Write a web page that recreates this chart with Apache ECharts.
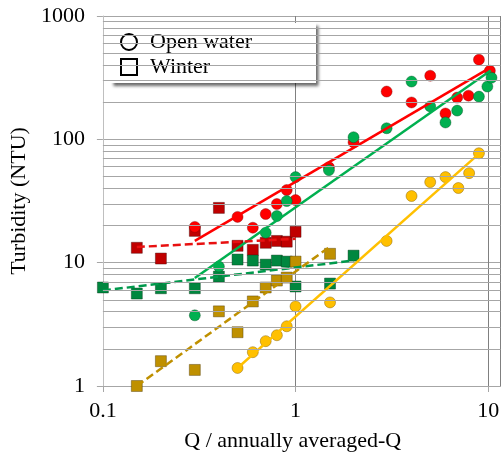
<!DOCTYPE html>
<html>
<head>
<meta charset="utf-8">
<script src="https://cdn.jsdelivr.net/npm/echarts@6/dist/echarts.min.js"></script>
<style>
  html, body { margin: 0; padding: 0; background: #fff; }
  #main { width: 502px; height: 457px; }
</style>
</head>
<body>
<div id="main"></div>
<script>
// open water points [Q ratio, NTU]
var redOpen = [[0.30,19.5],[0.50,23.5],[0.60,19.2],[0.70,24.8],[0.80,29.9],[0.90,38.8],[1.0,32.2],
  [1.49,59.4],[2.0,94.6],[2.97,244],[4.0,199],[5.0,328],[6.0,162],[6.9,218],[7.9,226],[8.95,442],[10.2,360]];
var greenOpen = [[0.30,3.74],[0.40,9.3],[0.70,17.5],[0.80,23.9],[0.90,31.6],[1.0,49.4],[1.49,56.2],
  [2.0,104],[2.97,123],[4.0,294],[5.0,185],[6.0,137],[6.9,171],[8.95,222],[9.9,268],[10.4,316]];
var yellowOpen = [[0.50,1.40],[0.60,1.88],[0.70,2.31],[0.80,2.58],[0.90,3.05],[1.0,4.42],[1.51,4.76],
  [2.97,15.0],[4.0,34.7],[5.0,45.0],[6.0,49.4],[7.0,40.3],[7.96,53.2],[8.95,77.1]];

// winter points
var redWinter = [[0.15,13.2],[0.20,10.8],[0.30,18.1],[0.40,27.8],[0.50,13.7],[0.60,12.7],[0.70,14.5],
  [0.80,15.0],[0.90,14.8],[1.0,17.8]];
var greenWinter = [[0.10,6.29],[0.15,5.62],[0.20,6.2],[0.30,6.2],[0.40,7.71],[0.50,10.6],[0.60,10.4],
  [0.70,9.64],[0.80,10.4],[0.90,10.2],[1.0,6.41],[1.51,6.77],[2.0,11.4]];
var yellowWinter = [[0.15,1.0],[0.20,1.59],[0.30,1.35],[0.40,4.03],[0.50,2.73],[0.60,4.85],[0.70,6.29],
  [0.80,7.16],[0.90,7.57],[1.0,10.2],[1.51,11.8]];

// power-law fits (end points)
var redFit = [[0.30,15.0],[10.2,380]];
var greenFit = [[0.30,7.5],[10.3,362]];
var yellowFit = [[0.50,1.40],[9.0,77]];
var redWinterFit = [[0.15,13.4],[1.0,15.6]];
var greenWinterFit = [[0.10,5.95],[2.0,10.4]];
var yellowWinterFit = [[0.15,1.0],[1.51,13.5]];

var xTicks = ['0.1', '1', '10'];
var yTicks = ['1', '10', '100', '1000'];

var FONT = 'Liberation Serif';

// minor log grid lines 2..9 of each decade
var minorLines = [];
[1, 10, 100].forEach(function (d) {
  for (var k = 2; k <= 9; k++) minorLines.push({yAxis: d * k});
});

function pts(name, data, symbol, color, border) {
  return {
    name: name, type: 'scatter', data: data, symbol: symbol, symbolSize: 11, z: 3,
    itemStyle: {color: color, borderColor: border, borderWidth: 0.8, opacity: 1}
  };
}
function fit(data, color, dashed) {
  return {
    type: 'line', data: data, showSymbol: false, z: 4, silent: true,
    lineStyle: {color: color, width: 2.5, type: dashed ? [8, 4] : 'solid'}
  };
}

var option = {
  animation: false,
  grid: {left: 96, top: 16, right: 0, bottom: 69},
  legend: {
    orient: 'vertical', left: 110, top: 23,
    itemWidth: 16, itemHeight: 16, itemGap: 3,
    padding: [8, 64, 5, 10],
    backgroundColor: '#fff',
    shadowColor: 'rgba(0,0,0,0.6)', shadowBlur: 3, shadowOffsetX: 3, shadowOffsetY: 3,
    selectedMode: false,
    textStyle: {fontFamily: FONT, fontSize: 22, color: '#000', padding: [0, 0, 0, 8]},
    data: [{name: 'Open water', icon: 'circle'}, {name: 'Winter', icon: 'rect'}]
  },
  xAxis: {
    type: 'log', logBase: 10, min: 0.1, max: 11.58,
    name: 'Q / annually averaged-Q', nameLocation: 'middle', nameGap: 44,
    nameTextStyle: {fontFamily: FONT, fontSize: 22, color: '#000', padding: [0, 18, 0, 0]},
    axisLine: {lineStyle: {color: '#a6a6a6'}},
    axisTick: {show: true, length: 6, lineStyle: {color: '#a6a6a6'}},
    axisLabel: {
      fontFamily: FONT, fontSize: 22, color: '#000', margin: 14, showMaxLabel: false,
      formatter: function (v) {
        var i = Math.round(Math.log10(v)) + 1;
        return Math.abs(Math.log10(v) - (i - 1)) < 1e-6 ? (xTicks[i] || '') : '';
      }
    },
    splitLine: {show: true, lineStyle: {color: '#808080'}}
  },
  yAxis: {
    type: 'log', logBase: 10, min: 1, max: 1000,
    name: 'Turbidity (NTU)', nameLocation: 'middle', nameGap: 62, nameRotate: 90,
    nameTextStyle: {fontFamily: FONT, fontSize: 22, color: '#000'},
    axisLine: {show: true, lineStyle: {color: '#bfbfbf'}},
    axisTick: {show: true, length: 6, lineStyle: {color: '#a6a6a6'}},
    axisLabel: {
      fontFamily: FONT, fontSize: 22, color: '#000', margin: 18,
      formatter: function (v) { return yTicks[Math.round(Math.log10(v))]; }
    },
    splitLine: {show: true, lineStyle: {color: '#a6a6a6'}}
  },
  series: [
    {
      type: 'line', data: [], silent: true, z: 1,
      markLine: {
        silent: true, symbol: ['none', 'none'], label: {show: false},
        lineStyle: {color: '#a6a6a6', width: 1, type: 'solid'},
        emphasis: {disabled: true},
        data: minorLines
      }
    },
    {name: 'Open water', type: 'scatter', data: [], symbol: 'circle',
      itemStyle: {color: '#fff', borderColor: '#000', borderWidth: 1.6, opacity: 1}},
    {name: 'Winter', type: 'scatter', data: [], symbol: 'rect',
      itemStyle: {color: '#fff', borderColor: '#000', borderWidth: 1.6, opacity: 1}},
    pts('rw', redWinter, 'rect', '#c00000', 'rgba(60,0,0,0.5)'),
    pts('gw', greenWinter, 'rect', '#00873f', 'rgba(0,50,20,0.5)'),
    pts('yw', yellowWinter, 'rect', '#bf9000', 'rgba(70,50,0,0.5)'),
    pts('ro', redOpen, 'circle', '#ff0000', 'rgba(120,0,0,0.5)'),
    pts('go', greenOpen, 'circle', '#00b050', 'rgba(0,70,30,0.5)'),
    pts('yo', yellowOpen, 'circle', '#ffc000', 'rgba(140,100,0,0.6)'),
    fit(redFit, '#ff0000', false),
    fit(greenFit, '#00b050', false),
    fit(yellowFit, '#ffc000', false),
    fit(redWinterFit, '#e81010', true),
    fit(greenWinterFit, '#00994c', true),
    fit(yellowWinterFit, '#bf9000', true)
  ]
};

var chart = echarts.init(document.getElementById('main'));
chart.setOption(option);
</script>
</body>
</html>
